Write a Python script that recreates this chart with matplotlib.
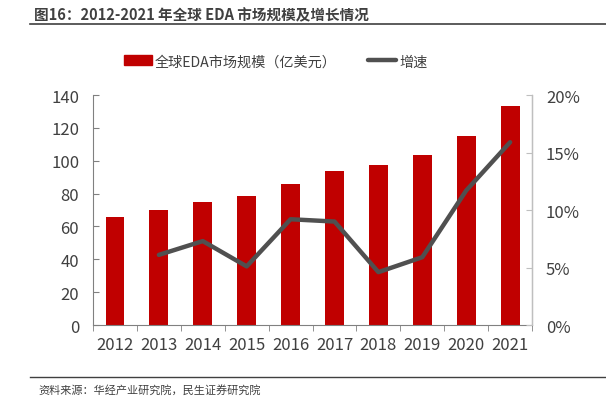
import matplotlib
matplotlib.use('Agg')
import matplotlib.pyplot as plt
from matplotlib.lines import Line2D
from matplotlib.patches import Patch
from matplotlib.ticker import FuncFormatter

plt.rcParams['font.family'] = ['Noto Sans CJK SC', 'DejaVu Sans']
plt.rcParams['axes.unicode_minus'] = False

years = ['2012', '2013', '2014', '2015', '2016', '2017', '2018', '2019', '2020', '2021']
market = [66.0, 69.8, 75.0, 78.6, 85.7, 93.5, 97.5, 103.3, 115.3, 133.5]
growth_years = years[1:]
growth = [6.1, 7.3, 5.1, 9.2, 9.0, 4.6, 5.9, 11.7, 15.9]

fig = plt.figure(figsize=(6.06, 4.02), dpi=100)
ax = fig.add_axes([0.1535, 0.189, 0.7245, 0.572])
ax2 = ax.twinx()

x = list(range(len(years)))
ax.bar(x, market, width=0.43, color='#C00000', zorder=2)
gx = [years.index(y) for y in growth_years]
ax2.plot(gx, growth, color='#505050', lw=3.2, solid_capstyle='round', zorder=3)

ax.set_xlim(-0.5, len(years) - 0.5)
ax.set_ylim(0, 140)
ax.set_yticks(range(0, 141, 20))
ax2.set_ylim(0, 20)
ax2.set_yticks([0, 5, 10, 15, 20])
ax2.yaxis.set_major_formatter(FuncFormatter(lambda v, p: '{:.0f}%'.format(v)))

ax.set_xticks(x)
ax.set_xticklabels(years)
ax.set_xticks([i + 0.5 for i in range(-1, len(years))], minor=True)
ax.tick_params(axis='x', which='major', length=0, pad=8, labelsize=12, colors='#404040')
ax.tick_params(axis='x', which='minor', length=4, color='#808080', direction='out')
ax.tick_params(axis='y', length=4, direction='in', color='#808080', labelsize=12, labelcolor='#404040', pad=10)
ax2.tick_params(axis='y', length=4, direction='in', color='#bfbfbf', labelsize=12, labelcolor='#404040', pad=10)

for s in ['top']:
    ax.spines[s].set_visible(False)
    ax2.spines[s].set_visible(False)
ax.spines['left'].set_color('#808080')
ax.spines['bottom'].set_color('#808080')
ax2.spines['left'].set_visible(False)
ax2.spines['bottom'].set_visible(False)
ax2.spines['right'].set_color('#bfbfbf')

handles = [Patch(color='#C00000'), Line2D([0], [0], color='#505050', lw=3.2, solid_capstyle='round')]
fig.legend(handles, ['全球EDA市场规模（亿美元）', '增速'], loc='center', bbox_to_anchor=(0.455, 0.845),
           ncol=2, frameon=False, fontsize=10.2, handlelength=2.0, handletextpad=0.2, columnspacing=2.2,
           labelcolor='#404040')

fig.text(0.056, 0.962, '图16：2012-2021 年全球 EDA 市场规模及增长情况', fontsize=10.5, fontweight='bold',
         color='#404040', va='center')
fig.add_artist(Line2D([0.049, 1.0], [0.937, 0.937], color='#404040', lw=1.2))
fig.add_artist(Line2D([0.049, 1.0], [0.059, 0.059], color='#404040', lw=1.0))
fig.text(0.063, 0.028, '资料来源：华经产业研究院，民生证券研究院', fontsize=8, color='#404040', va='center')

fig.savefig('out.png', dpi=100)
